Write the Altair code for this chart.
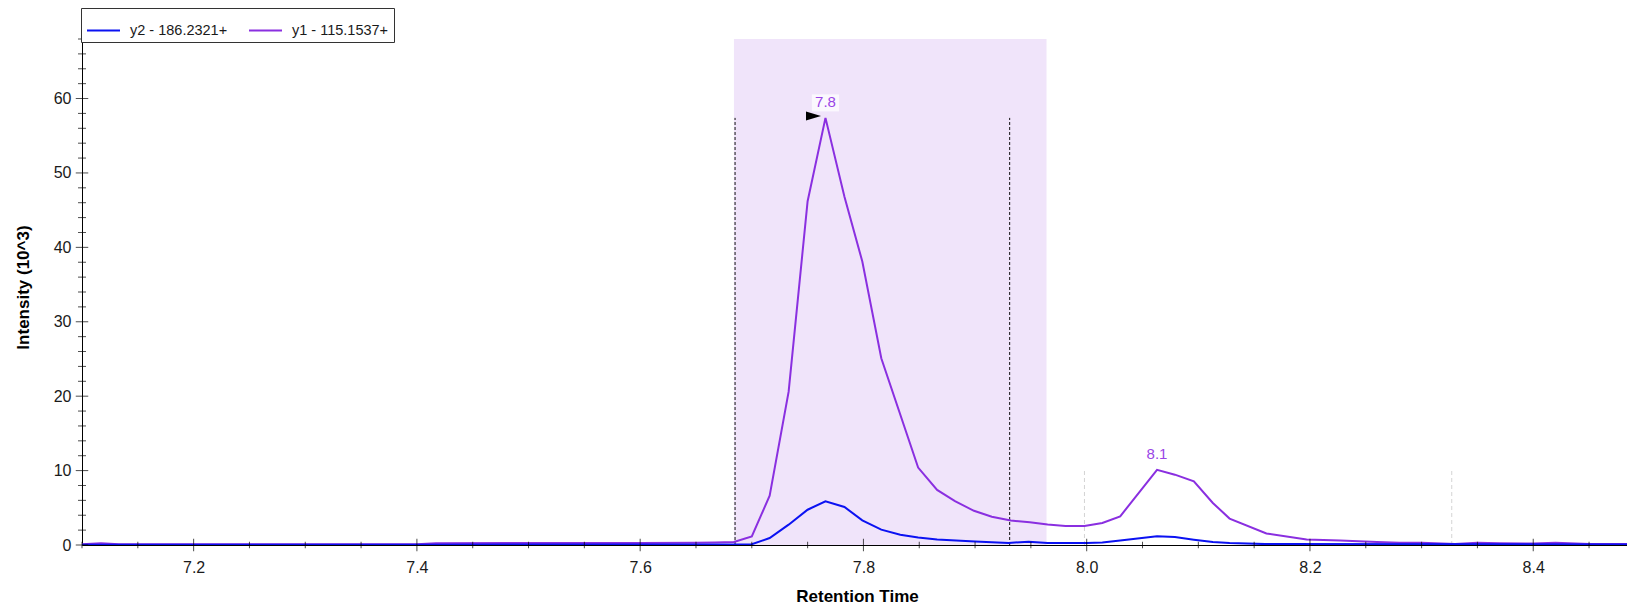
import altair as alt
import pandas as pd

# ---------------- data ----------------
series_names = ["y2 - 186.2321+", "y1 - 115.1537+"]
series_colors = ["#0B12F2", "#8A2FE0"]

y1_time = [7.100, 7.117, 7.133, 7.400, 7.417, 7.500, 7.600, 7.650, 7.667, 7.684,
           7.700, 7.716, 7.733, 7.750, 7.766, 7.783, 7.799, 7.816, 7.849, 7.866,
           7.882, 7.899, 7.915, 7.932, 7.949, 7.965, 7.981, 7.998, 8.014, 8.030,
           8.063, 8.079, 8.096, 8.113, 8.128, 8.161, 8.197, 8.227, 8.260, 8.280,
           8.300, 8.330, 8.350, 8.370, 8.400, 8.420, 8.450, 8.484]
y1_value = [0.10, 0.22, 0.10, 0.10, 0.25, 0.28, 0.28, 0.30, 0.35, 0.40,
            1.16, 6.62, 20.6, 46.2, 57.4, 46.8, 38.1, 25.1, 10.4, 7.4,
            5.9, 4.6, 3.8, 3.3, 3.05, 2.75, 2.55, 2.55, 2.95, 3.85,
            10.1, 9.45, 8.55, 5.65, 3.55, 1.55, 0.75, 0.62, 0.40, 0.30,
            0.30, 0.15, 0.30, 0.25, 0.20, 0.30, 0.15, 0.15]

y2_time = [7.100, 7.400, 7.700, 7.716, 7.733, 7.750, 7.766, 7.783, 7.799, 7.816,
           7.833, 7.849, 7.866, 7.900, 7.930, 7.948, 7.965, 8.000, 8.014, 8.030,
           8.063, 8.079, 8.096, 8.113, 8.128, 8.160, 8.484]
y2_value = [0.05, 0.05, 0.10, 0.94, 2.73, 4.74, 5.86, 5.11, 3.31, 2.06,
            1.38, 1.02, 0.75, 0.48, 0.27, 0.45, 0.27, 0.27, 0.35, 0.62,
            1.16, 1.07, 0.71, 0.40, 0.27, 0.12, 0.08]

peak_time = [7.766, 8.063]
peak_value = [57.4, 10.1]
peak_label = ["7.8", "8.1"]

shade_start = [7.684]
shade_end = [7.964]
bound_time = [7.685, 7.931]
bound_top = [57.4, 57.4]
other_bound_time = [7.998, 8.327]
other_bound_top = [10.2, 10.2]

x_major = [7.2, 7.4, 7.6, 7.8, 8.0, 8.2, 8.4]
x_minor = [7.1, 7.15, 7.25, 7.3, 7.35, 7.45, 7.5, 7.55, 7.65, 7.7, 7.75, 7.85,
           7.9, 7.95, 8.05, 8.1, 8.15, 8.25, 8.3, 8.35, 8.45]
y_major = [0, 10, 20, 30, 40, 50, 60]
y_minor = [2, 4, 6, 8, 12, 14, 16, 18, 22, 24, 26, 28, 32, 34, 36, 38, 42, 44,
           46, 48, 52, 54, 56, 58, 62, 64, 66, 68]

X_DOMAIN = [7.1, 8.484]
Y_DOMAIN = [0, 68]

FONT = "Liberation Sans"
PURPLE_TEXT = "#9A45E6"

# ---------------- tables ----------------
lines_df = pd.concat([
    pd.DataFrame({"t": y1_time, "v": y1_value, "series": series_names[1]}),
    pd.DataFrame({"t": y2_time, "v": y2_value, "series": series_names[0]}),
])
peaks_df = pd.DataFrame({"t": peak_time, "v": peak_value, "label": peak_label})
arrow_df = peaks_df.iloc[[0]]
shade_df = pd.DataFrame({"t": shade_start, "t2": shade_end, "v": [Y_DOMAIN[0]], "v2": [Y_DOMAIN[1]]})
bound_df = pd.DataFrame({"t": bound_time, "v": [0, 0], "v2": bound_top})
other_df = pd.DataFrame({"t": other_bound_time, "v": [0, 0], "v2": other_bound_top})
xmaj_df = pd.DataFrame({"t": x_major, "v": 0})
xmin_df = pd.DataFrame({"t": x_minor, "v": 0})
ymaj_df = pd.DataFrame({"t": X_DOMAIN[0], "v": y_major})
ymin_df = pd.DataFrame({"t": X_DOMAIN[0], "v": y_minor})

X = alt.X("t:Q",
          scale=alt.Scale(domain=X_DOMAIN, nice=False, zero=False),
          axis=alt.Axis(values=x_major, format=".1f", title="Retention Time",
                        ticks=False, tickSize=0, grid=False,
                        labelFontSize=16, labelColor="#1a1a1a", labelFont=FONT,
                        labelBaseline="middle", labelPadding=22, labelFlush=False,
                        domainColor="#000000", domainWidth=1,
                        titleFontSize=17, titleFontWeight="bold", titleFont=FONT,
                        titleColor="#000000", titleBaseline="middle", titleY=51,
                        titleX=775))
Y = alt.Y("v:Q",
          scale=alt.Scale(domain=Y_DOMAIN, nice=False),
          axis=alt.Axis(values=y_major, title="Intensity (10^3)",
                        ticks=False, tickSize=0, grid=False,
                        labelFontSize=16, labelColor="#1a1a1a", labelFont=FONT,
                        labelPadding=11,
                        domainColor="#000000", domainWidth=1,
                        titleFontSize=17, titleFontWeight="bold", titleFont=FONT,
                        titleColor="#000000", titleBaseline="middle", titleX=-59,
                        titleY=248))

color = alt.Color("series:N",
                  scale=alt.Scale(domain=series_names, range=series_colors),
                  legend=alt.Legend(title=None, orient="none", legendX=-1, legendY=-31,
                                    direction="horizontal", symbolType="stroke",
                                    symbolSize=1089, symbolStrokeWidth=2,
                                    labelFontSize=14.5, labelFont=FONT, labelColor="#1a1a1a",
                                    labelOffset=9, columnPadding=17, padding=5,
                                    strokeColor="#333333", fillColor="#ffffff"))

shade = alt.Chart(shade_df).mark_rect(color="#F0E4FA").encode(
    x=X, x2="t2:Q", y=Y, y2="v2:Q")

bounds = alt.Chart(bound_df).mark_rule(color="#111111", strokeWidth=1, strokeDash=[3, 2]).encode(
    x=X, y=Y, y2="v2:Q")

other_bounds = alt.Chart(other_df).mark_rule(color="#d4d4d4", strokeWidth=1, strokeDash=[4, 3]).encode(
    x=X, y=Y, y2="v2:Q")

line_y1 = alt.Chart(lines_df).transform_filter(
    alt.datum.series == series_names[1]
).mark_line(strokeWidth=2, clip=True).encode(x=X, y=Y, color=color)

line_y2 = alt.Chart(lines_df).transform_filter(
    alt.datum.series == series_names[0]
).mark_line(strokeWidth=2, clip=True).encode(x=X, y=Y, color=color)

label_bg = alt.Chart(peaks_df.iloc[[0]]).mark_point(
    shape="M -1.6 -1 L 1.6 -1 L 1.6 1 L -1.6 1 Z", filled=True, size=289,
    color="#FBF8FE", opacity=1, yOffset=-15).encode(x=X, y=Y)

labels = alt.Chart(peaks_df).mark_text(
    dy=-16, fontSize=15, font=FONT, color=PURPLE_TEXT).encode(x=X, y=Y, text="label:N")

arrow = alt.Chart(arrow_df).mark_point(
    shape="M -1 -0.6 L 1 0 L -1 0.6 Z", filled=True, size=225, color="#000000",
    opacity=1, xOffset=-12, yOffset=-2).encode(x=X, y=Y)

xmaj = alt.Chart(xmaj_df).mark_tick(orient="vertical", size=12.5, thickness=1, color="#000000").encode(x=X, y=Y)
xmin = alt.Chart(xmin_df).mark_tick(orient="vertical", size=6.5, thickness=1, color="#000000").encode(x=X, y=Y)
ymaj = alt.Chart(ymaj_df).mark_tick(orient="horizontal", size=12.5, thickness=1, color="#000000").encode(x=X, y=Y)
ymin = alt.Chart(ymin_df).mark_tick(orient="horizontal", size=8, thickness=1, color="#000000").encode(x=X, y=Y)

chart = alt.layer(
    shade, bounds, other_bounds, line_y1, line_y2, label_bg, labels, arrow,
    xmaj, xmin, ymaj, ymin
).properties(
    width=1545, height=506,
    autosize=alt.AutoSizeParams(type="none"),
    padding={"left": 74, "top": 31, "right": 0, "bottom": 63},
).configure(
    font=FONT, background="#ffffff",
    view=alt.ViewConfig(stroke="transparent"),
)

chart.save("out.html", embed_options={"renderer": "svg", "actions": False})
